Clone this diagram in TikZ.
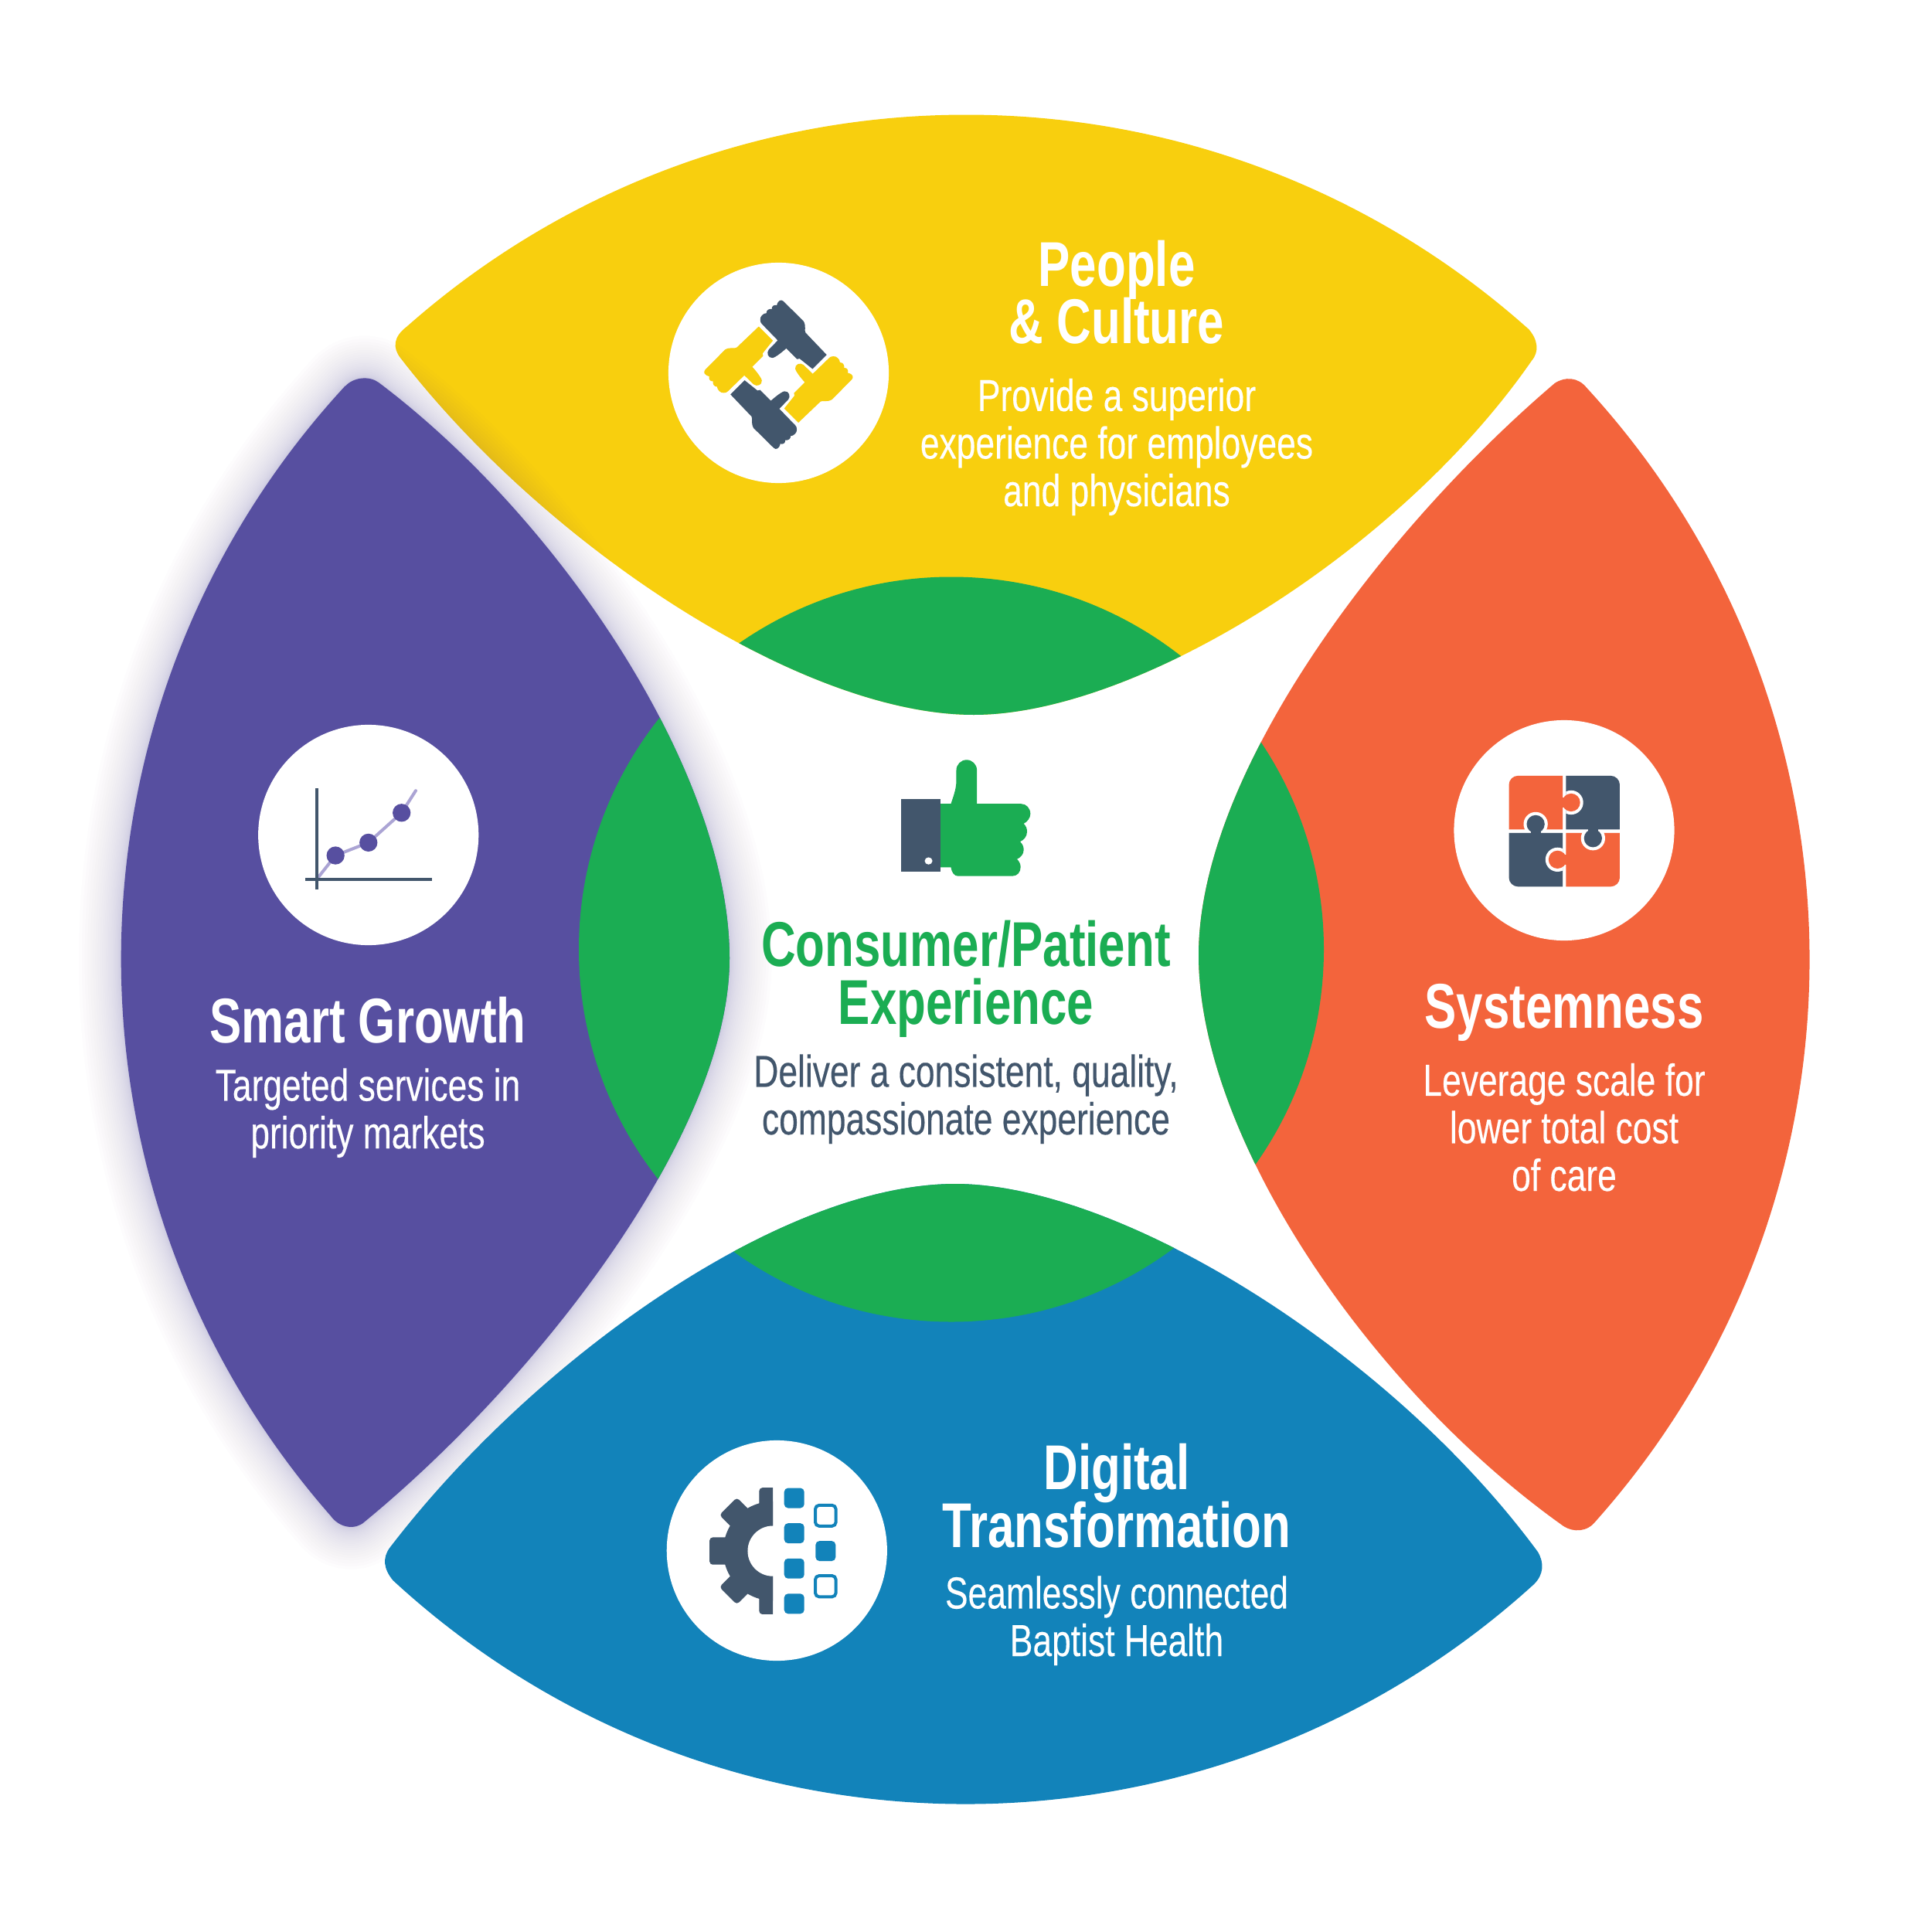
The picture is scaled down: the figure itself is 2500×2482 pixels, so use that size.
\documentclass[tikz,border=0pt]{standalone}
\usepackage{fontspec}
\setmainfont[FakeStretch=0.755]{Liberation Sans}
\newfontfamily\descfam[FakeStretch=0.765,FakeBold=0.25]{Liberation Sans}
\definecolor{cyellow}{HTML}{F8CF0E}
\definecolor{cpurple}{HTML}{574FA0}
\definecolor{corange}{HTML}{F3643C}
\definecolor{cblue}{HTML}{1283BA}
\definecolor{cgreen}{HTML}{1BAD53}
\definecolor{cnavy}{HTML}{42566C}
\definecolor{clilac}{HTML}{ABA4D4}
\newcommand{\titlefnt}{\bfseries\fontsize{23.3}{21.3}\selectfont\setlength{\lineskiplimit}{-20pt}}
\newcommand{\descfnt}{\descfam\fontsize{16.5}{17.5}\selectfont\setlength{\lineskiplimit}{-20pt}}
\newcommand{\yellowlens}{(518,463) .. controls (508,450) and (509,436) .. (526,423) arc[start angle=228.49,end angle=311.77,radius=1093] .. controls (1990,440) and (1992,455) .. (1982,466.7) .. controls (1810,715) and (1470,925) .. (1260,925) .. controls (1036,925) and (705,705) .. (518,463) -- cycle}
\newcommand{\orangelens}{(2011.7,496) .. controls (2025,487) and (2042,488) .. (2053,501.7) arc[start angle=317.39,end angle=401.64,radius=1093] .. controls (2054,1983) and (2036,1983) .. (2023.3,1975) .. controls (1770,1795) and (1551,1470) .. (1551,1236) .. controls (1551,1000) and (1790,685) .. (2011.7,496) -- cycle}
\newcommand{\purplelens}{(446.7,500) .. controls (457,488) and (478,486) .. (490,495) .. controls (725,672) and (944,1000) .. (944,1240) .. controls (944,1470) and (690,1790) .. (471.7,1969.3) .. controls (460,1980) and (440,1978) .. (428,1961.7) arc[start angle=138.74,end angle=222.73,radius=1093] -- cycle}
\newcommand{\bluelens}{(504,2003.3) .. controls (690,1760) and (1010,1532) .. (1236,1532) .. controls (1450,1532) and (1800,1750) .. (1990,2008.3) .. controls (1998,2022) and (1998,2037) .. (1985,2050) arc[start angle=47.7,end angle=132.67,radius=1093] .. controls (496,2030) and (495,2016) .. (504,2003.3) -- cycle}
\newcommand{\onehand}{(660,418) -- (578,332) .. controls (572,322) and (582,308) .. (570,287) -- (492,210) .. controls (484,203) and (472,203) .. (466,226) .. controls (458,222) and (445,228) .. (447,240) .. controls (436,238) and (425,245) .. (426,256) .. controls (414,256) and (400,270) .. (402,282) .. controls (402,290) and (404,294) .. (408,298) -- (470,362) -- (435,398) .. controls (425,410) and (432,432) .. (450,430) .. controls (462,428) and (490,405) .. (503,393) -- (545,435) -- (555,433) -- (605,473) -- cycle}
\tikzset{
  titletext/.style={anchor=base,align=center,inner sep=0pt,text=white,font=\titlefnt},
  desctext/.style={anchor=base,align=center,inner sep=0pt,text=white,font=\descfnt},
  badge/.style={circle,fill=white,inner sep=0pt,minimum size=2.85cm},
  icon/.style={x=0.0033333cm,y=-0.0033333cm},
  sq/.style={fill=cblue,rounded corners=0.05cm},
  osq/.style={draw=cblue,line width=0.04cm,fill=none,rounded corners=0.05cm}
}
\begin{document}
\begin{tikzpicture}[x=0.01cm,y=-0.01cm]
\useasboundingbox (0,0) rectangle (2500,2482);
\fill[white] (0,0) rectangle (2500,2482);
% yellow
\fill[cyellow] \yellowlens;
\begin{scope}\clip \yellowlens; \fill[cgreen] (1231,1228.5) circle (482); \end{scope}
% glow of the purple shape
\foreach \w in {3,6,...,81}{
  \draw[cpurple,opacity=0.012,line join=round,line width={\w*\w*0.00017cm}] \purplelens;
}
% purple
\fill[cpurple] \purplelens;
\begin{scope}\clip \purplelens; \fill[cgreen] (1231,1228.5) circle (482); \end{scope}
% orange
\fill[corange] \orangelens;
\begin{scope}\clip \orangelens; \fill[cgreen] (1231,1228.5) circle (482); \end{scope}
% blue
\fill[cblue] \bluelens;
\begin{scope}\clip \bluelens; \fill[cgreen] (1231,1228.5) circle (482); \end{scope}

% badges
\node[badge] (bpeople) at (1007.5,482.5) {};
\node[badge] (bgrowth) at (476.7,1080.5) {};
\node[badge] (bsystem) at (2024,1074.5) {};
\node[badge] (bdigital) at (1005.3,2006.5) {};

% hands
\begin{scope}[shift={(850,320)},icon]
  \fill[cnavy] \onehand;
  \begin{scope}[rotate around={90:(473,495)}]\fill[cyellow] \onehand;\end{scope}
  \begin{scope}[rotate around={180:(473,495)}]\fill[cnavy] \onehand;\end{scope}
  \begin{scope}[rotate around={270:(473,495)}]\fill[cyellow] \onehand;\end{scope}
\end{scope}

% chart
\begin{scope}[shift={(320,920)},icon]
  \draw[clilac,line width=0.04cm,line cap=round,line join=round] (275,648) -- (343,562) -- (471,512) -- (600,396) -- (655,310);
  \fill[cnavy] (263,300) rectangle (276,693);
  \fill[cnavy] (226,649) rectangle (718,662);
  \fill[cpurple] (343,562) circle (35);
  \fill[cpurple] (471,512) circle (35);
  \fill[cpurple] (600,396) circle (35);
\end{scope}

% puzzle
\begin{scope}[shift={(1860,920)},icon]
  \fill[corange] (487,252) -- (313,252) .. controls (294,252) and (278,268) .. (278,287) -- (278,461) -- (487,461) -- cycle;
  \fill[cnavy] (500,252) -- (674,252) .. controls (693,252) and (709,268) .. (709,287) -- (709,461) -- (500,461) -- cycle;
  \fill[cnavy] (487,474) -- (487,683) -- (313,683) .. controls (294,683) and (278,667) .. (278,648) -- (278,474) -- cycle;
  \fill[corange] (500,474) -- (500,683) -- (674,683) .. controls (693,683) and (709,667) .. (709,648) -- (709,474) -- cycle;
  \begin{scope}\clip (500,252) rectangle (709,461); \fill[white] (520,356) circle (47); \end{scope}
  \fill[corange] (520,356) circle (35); \fill[corange] (480,336) rectangle (510,376);
  \begin{scope}\clip (500,474) rectangle (709,683); \fill[white] (605,495) circle (47); \end{scope}
  \fill[cnavy] (605,495) circle (35); \fill[cnavy] (585,458) rectangle (625,480);
  \begin{scope}\clip (278,474) rectangle (487,683); \fill[white] (467,578) circle (47); \end{scope}
  \fill[corange] (467,578) circle (35); \fill[corange] (477,558) rectangle (505,598);
  \begin{scope}\clip (278,252) rectangle (487,461); \fill[white] (382,440) circle (47); \end{scope}
  \fill[cnavy] (382,440) circle (35); \fill[cnavy] (362,440) rectangle (402,478);
\end{scope}

% gear
\begin{scope}[shift={(850,1850)},icon]
  \begin{scope}
    \clip (100,200) rectangle (451,740);
    \fill[cnavy] (451,472) circle (193);
    \foreach \a/\hw in {0/53,45/48,90/53,-45/48,-90/53}{
      \begin{scope}[rotate around={\a:(451,472)}]
        \fill[cnavy,rounded corners=0.04cm] (205,472-\hw) rectangle (500,472+\hw);
      \end{scope}
    }
  \end{scope}
  \fill[white] (451,472) circle (98);
  \fill[sq] (495,227) rectangle (573,305);
  \fill[sq] (495,364) rectangle (573,442);
  \fill[sq] (495,501) rectangle (573,579);
  \fill[sq] (495,638) rectangle (573,716);
  \fill[sq] (617,433) rectangle (695,511);
  \draw[osq] (616,294) rectangle (696,375);
  \draw[osq] (616,568) rectangle (696,650);
\end{scope}

% thumb
\begin{scope}[shift={(1120,960)},icon]
  \fill[cgreen] (285,241) -- (332,241) .. controls (340,215) and (353,185) .. (353,150) -- (353,110) .. controls (353,88) and (371,70) .. (393,70) .. controls (415,70) and (433,88) .. (433,110) -- (433,241) -- (605,241) .. controls (625,241) and (641,258) .. (641,280) .. controls (641,296) and (628,312) .. (615,318) .. controls (625,328) and (628,338) .. (628,350) .. controls (628,368) and (615,382) .. (601,388) .. controls (611,398) and (615,408) .. (615,420) .. controls (615,438) and (602,450) .. (589,456) .. controls (598,465) and (603,476) .. (603,487) .. controls (603,507) and (590,522) .. (570,522) -- (360,522) .. controls (345,522) and (335,508) .. (332,488) -- (285,488) -- cycle;
  \fill[cnavy] (137,223) rectangle (291,506);
  \fill[white] (245,463) ellipse (15 and 14);
\end{scope}

% texts (anchor base = last line of the block)
\node[titletext] (tpeople) at (1445,445) {People\\\& Culture};
\node[desctext] (dpeople) at (1445,655) {Provide a superior\\experience for employees\\and physicians};
\node[titletext] (tgrowth) at (476,1349) {Smart Growth};
\node[desctext] (dgrowth) at (476,1486) {Targeted services in\\priority markets};
\node[titletext] (tsystem) at (2024,1330) {Systemness};
\node[desctext] (dsystem) at (2024,1541) {Leverage scale for\\lower total cost\\of care};
\node[titletext] (tdigital) at (1445,2002) {Digital\\Transformation};
\node[desctext] (ddigital) at (1445,2143) {Seamlessly connected\\Baptist Health};
\node[titletext,text=cgreen] (tcenter) at (1250,1325.5) {Consumer/Patient\\Experience};
\node[desctext,text=cnavy] (dcenter) at (1250,1468) {Deliver a consistent, quality,\\compassionate experience};
\end{tikzpicture}
\end{document}
